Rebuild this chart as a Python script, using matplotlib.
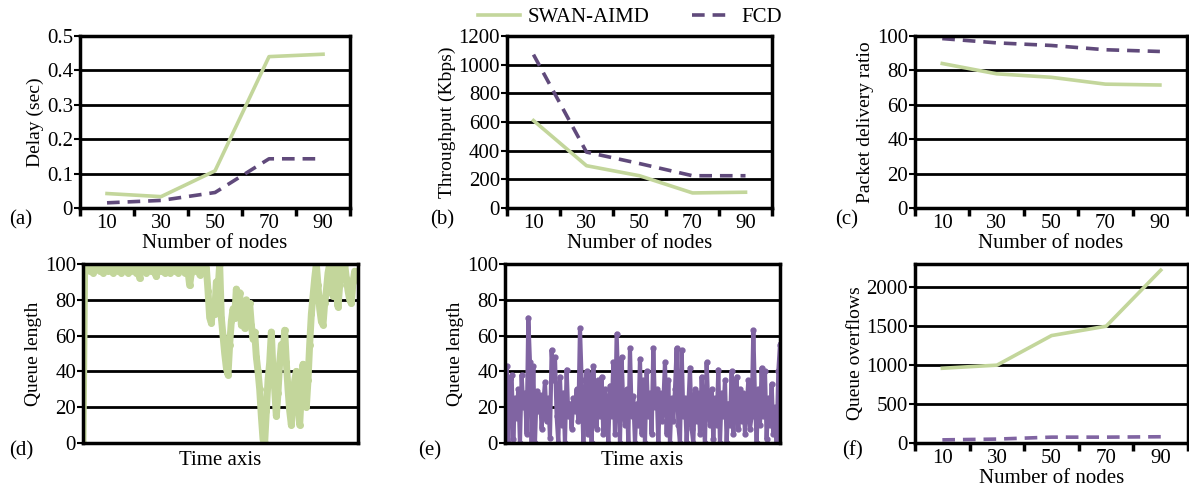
import matplotlib.pyplot as plt
from matplotlib.lines import Line2D

plt.rcParams['font.family'] = ['Liberation Serif', 'DejaVu Serif']

# Datos de las curvas
nodes = ['10', '30', '50', '70', '90']
delay_swan = [0.042, 0.033, 0.108, 0.44, 0.447]
delay_fcd = [0.015, 0.022, 0.045, 0.143, 0.143]
thr_swan = [610, 295, 225, 105, 110]
thr_fcd = [1070, 390, 310, 225, 225]
pdr_swan = [84, 78, 76, 72, 71.5]
pdr_fcd = [98.5, 96, 94.5, 92, 91]
ovf_swan = [960, 1000, 1380, 1500, 2220]
ovf_fcd = [40, 50, 75, 75, 80]

# Longitud de cola en el tiempo, SWAN-AIMD (d)
queue_swan = [0, 100, 97, 100, 96, 99, 95, 100, 97, 100, 96, 99, 95, 100, 98, 96,
              100, 97, 95, 99, 100, 96, 98, 95, 100, 97, 99, 95, 100, 96, 98, 100,
              95, 97, 92, 99, 96, 100, 95, 98, 100, 96, 99, 95, 93, 98, 100, 96,
              99, 95, 100, 97, 95, 99, 100, 96, 98, 95, 100, 97, 99, 95, 98, 96,
              88, 95, 99, 100, 96, 98, 94, 99, 100, 95, 98, 85, 70, 67, 78, 72,
              90, 85, 100, 70, 60, 50, 42, 38, 55, 68, 75, 70, 86, 72, 84, 66,
              78, 64, 80, 70, 78, 66, 58, 62, 48, 40, 30, 15, 2, 0, 18, 35,
              45, 62, 40, 30, 15, 28, 45, 55, 48, 63, 45, 30, 18, 10, 25, 35,
              40, 22, 10, 28, 44, 30, 20, 35, 55, 72, 82, 92, 100, 88, 75, 68,
              66, 78, 85, 95, 100, 90, 82, 100, 85, 76, 88, 100, 95, 100, 92, 85,
              80, 78, 90, 96, 92, 94]

# Longitud de cola en el tiempo, FCD (e)
queue_fcd = [5, 43, 0, 30, 38, 2, 25, 14, 30, 0, 38, 20, 28, 5, 70, 45,
             0, 43, 0, 29, 18, 27, 8, 22, 34, 12, 25, 3, 52, 35, 48, 15,
             0, 37, 10, 28, 0, 41, 15, 22, 8, 25, 18, 30, 12, 64, 35, 0,
             22, 40, 5, 38, 0, 43, 20, 8, 35, 15, 37, 5, 30, 22, 0, 32,
             15, 45, 5, 61, 30, 0, 48, 20, 10, 30, 0, 53, 15, 26, 0, 22,
             10, 47, 5, 35, 0, 40, 15, 28, 5, 53, 20, 30, 0, 28, 12, 22,
             45, 5, 35, 0, 25, 12, 30, 53, 10, 0, 52, 15, 25, 0, 20, 42,
             8, 0, 30, 12, 28, 5, 37, 15, 0, 45, 20, 10, 30, 2, 25, 10,
             41, 0, 28, 15, 35, 0, 22, 10, 40, 5, 25, 37, 8, 30, 12, 28,
             5, 20, 35, 8, 15, 63, 25, 0, 30, 10, 42, 15, 40, 2, 25, 10,
             33, 5, 20, 0, 40, 55]

GREEN = '#c3d69b'
PURPLE = '#604a7b'
PURPLE_L = '#8064a2'
FS = 15
FS_Y = 14

fig = plt.figure(figsize=(11.89, 4.91), dpi=100)


def style_axes(ax, ymax, yticks):
    ax.set_ylim(0, ymax)
    ax.set_yticks(yticks)
    ax.grid(True, axis='y', color='black', linewidth=2)
    ax.set_axisbelow(True)
    for s in ax.spines.values():
        s.set_linewidth(2.5)
        s.set_color('black')
    ax.tick_params(axis='y', labelsize=FS, length=4, width=1.5, pad=1)


def category_axes(ax, ymax, yticks):
    style_axes(ax, ymax, yticks)
    ax.set_xlim(-0.5, 4.5)
    ax.set_xticks(range(5))
    ax.set_xticklabels(nodes)
    ax.set_xticks([i - 0.5 for i in range(6)], minor=True)
    ax.tick_params(axis='x', which='major', length=0, labelsize=FS, pad=4)
    ax.tick_params(axis='x', which='minor', length=6, width=2.5)
    ax.set_xlabel('Number of nodes', fontsize=FS, labelpad=1)


def plot_pair(ax, swan, fcd, fcd_color=PURPLE):
    x = range(len(swan))
    ax.plot(x, swan, color=GREEN, linewidth=2.6)
    ax.plot(x, fcd, color=fcd_color, linewidth=2.6, linestyle=(0, (3.5, 2.2)))


# (a) Retardo
ax_a = fig.add_axes([0.0673, 0.5764, 0.2271, 0.3503])
plot_pair(ax_a, delay_swan, delay_fcd)
category_axes(ax_a, 0.5, [0, 0.1, 0.2, 0.3, 0.4, 0.5])
ax_a.set_yticklabels(['0', '0.1', '0.2', '0.3', '0.4', '0.5'])
ax_a.set_ylabel('Delay (sec)', fontsize=FS_Y, labelpad=2)

# (b) Throughput
ax_b = fig.add_axes([0.4264, 0.5764, 0.2229, 0.3503])
plot_pair(ax_b, thr_swan, thr_fcd)
category_axes(ax_b, 1200, range(0, 1201, 200))
ax_b.set_ylabel('Throughput (Kbps)', fontsize=FS_Y, labelpad=2)

# (c) Ratio de entrega
ax_c = fig.add_axes([0.7696, 0.5764, 0.2288, 0.3503])
plot_pair(ax_c, pdr_swan, pdr_fcd)
category_axes(ax_c, 100, range(0, 101, 20))
ax_c.set_ylabel('Packet delivery ratio', fontsize=FS_Y, labelpad=2)

# (d) Cola SWAN-AIMD
ax_d = fig.add_axes([0.0698, 0.0978, 0.2313, 0.3646])
ax_d.plot(range(len(queue_swan)), queue_swan, color=GREEN, linewidth=5,
          marker='o', markersize=4, solid_joinstyle='round')
style_axes(ax_d, 100, range(0, 101, 20))
ax_d.set_xlim(0, len(queue_swan) - 1)
ax_d.set_xticks([])
ax_d.set_xlabel('Time axis', fontsize=FS, labelpad=6)
ax_d.set_ylabel('Queue length', fontsize=FS_Y, labelpad=2)

# (e) Cola FCD
ax_e = fig.add_axes([0.4247, 0.0978, 0.2313, 0.3646])
ax_e.plot(range(len(queue_fcd)), queue_fcd, color=PURPLE_L, linewidth=3,
          marker='o', markersize=3.5)
style_axes(ax_e, 100, range(0, 101, 20))
ax_e.set_xlim(0, len(queue_fcd) - 1)
ax_e.set_xticks([])
ax_e.set_xlabel('Time axis', fontsize=FS, labelpad=6)
ax_e.set_ylabel('Queue length', fontsize=FS_Y, labelpad=2)

# (f) Desbordamientos
ax_f = fig.add_axes([0.7696, 0.0978, 0.2296, 0.3646])
plot_pair(ax_f, ovf_swan, ovf_fcd, fcd_color=PURPLE_L)
category_axes(ax_f, 2300, range(0, 2001, 500))
ax_f.set_ylabel('Queue overflows', fontsize=FS_Y, labelpad=2)

# Etiquetas de panel
for lbl, (x, y) in zip(['(a)', '(b)', '(c)', '(d)', '(e)', '(f)'],
                       [(0.008, 0.553), (0.362, 0.553), (0.702, 0.553),
                        (0.008, 0.082), (0.352, 0.082), (0.708, 0.082)]):
    fig.text(x, y, lbl, fontsize=FS, ha='left', va='center')

# Leyenda
handles = [Line2D([], [], color=GREEN, linewidth=2.6),
           Line2D([], [], color=PURPLE, linewidth=2.6, linestyle=(0, (3.5, 2.2)))]
fig.legend(handles, ['SWAN-AIMD', 'FCD'], loc='center', bbox_to_anchor=(0.53, 0.965),
           ncol=2, frameon=False, fontsize=FS, handlelength=2.0, columnspacing=2.0,
           handletextpad=0.4)

fig.savefig('out.png', dpi=100)
